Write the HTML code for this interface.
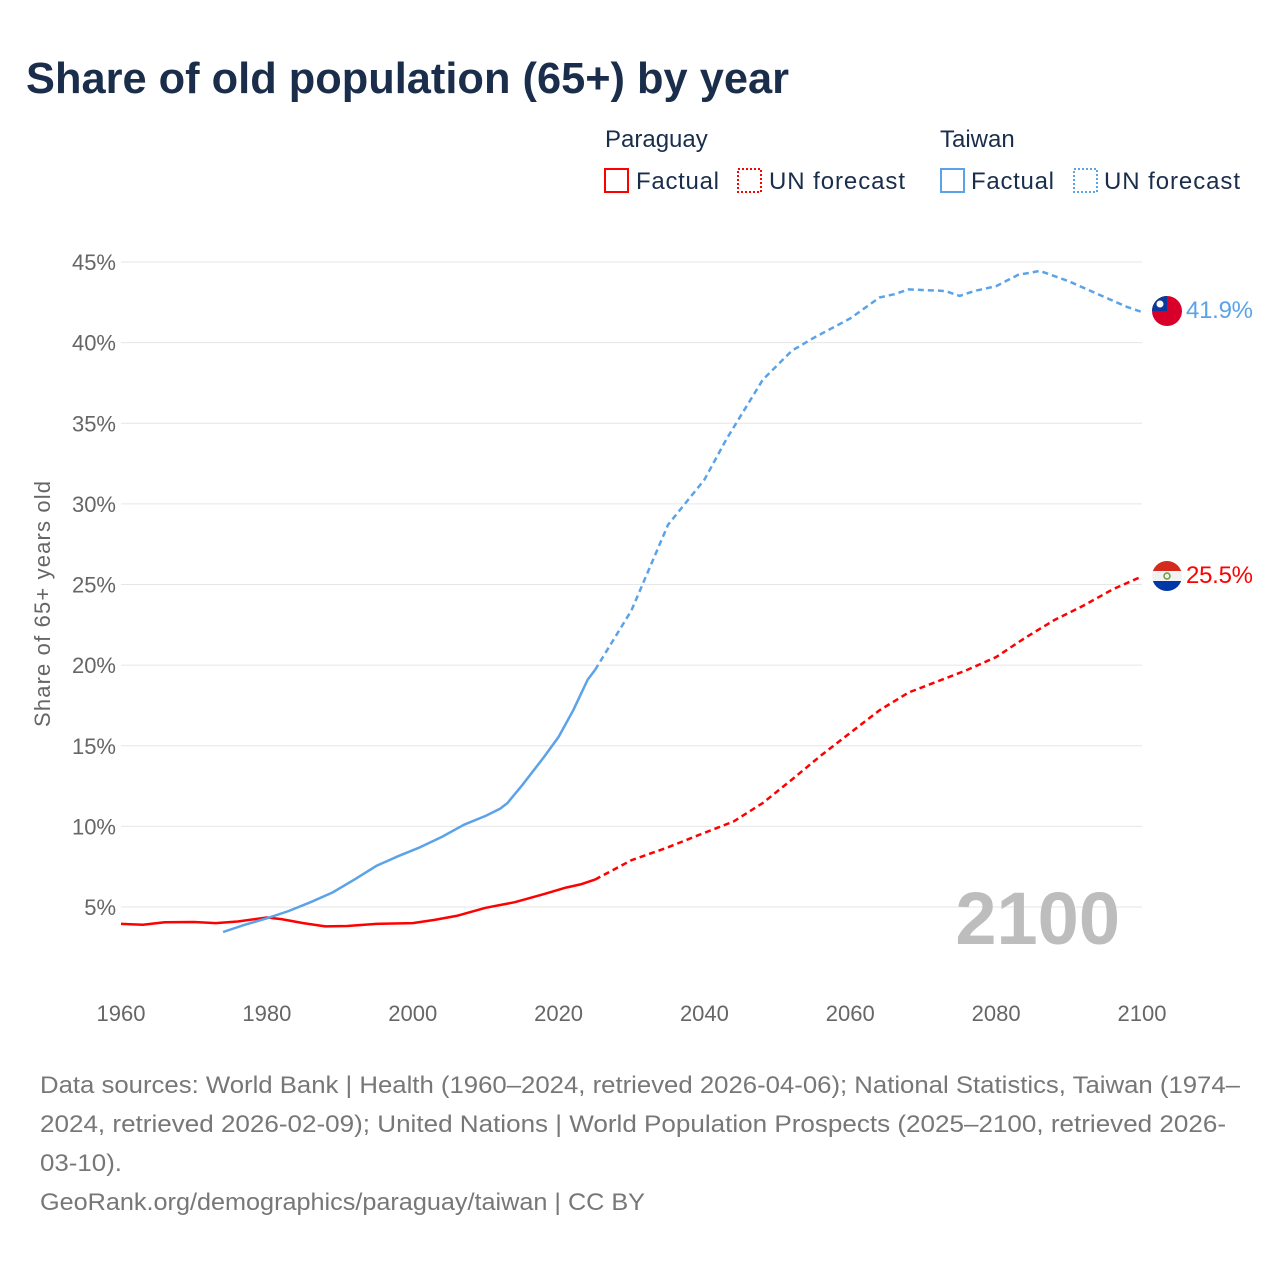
<!DOCTYPE html>
<html><head><meta charset="utf-8">
<style>
body{margin:0;background:#fff;font-family:"Liberation Sans",sans-serif;}
#wrap{position:relative;width:1280px;height:1280px;overflow:hidden;}
</style></head>
<body>
<div id="wrap">
<svg id="chart" width="1280" height="1280">
<text x="26" y="93" font-size="44" font-weight="bold" fill="#1a2e4b" textLength="763" lengthAdjust="spacingAndGlyphs">Share of old population (65+) by year</text>
<g font-size="24" fill="#1a2e4b">
<text x="605" y="147">Paraguay</text>
<text x="940" y="147">Taiwan</text>
<g><rect x="605" y="169" width="23" height="23" fill="none" stroke="#ff0000" stroke-width="2"/><text x="636" y="189" textLength="83">Factual</text></g>
<g><rect x="738" y="169" width="23" height="23" fill="none" stroke="#ff0000" stroke-width="2" stroke-dasharray="2,2"/><text x="769" y="189" textLength="136">UN forecast</text></g>
<g><rect x="941" y="169" width="23" height="23" fill="none" stroke="#5ba3e8" stroke-width="2"/><text x="971" y="189" textLength="83">Factual</text></g>
<g><rect x="1074" y="169" width="23" height="23" fill="none" stroke="#5ba3e8" stroke-width="2" stroke-dasharray="2,2"/><text x="1104" y="189" textLength="136">UN forecast</text></g>
</g>
<g id="grid"></g>
<g id="yticks" font-size="22" fill="#666" text-anchor="end"></g>
<g id="xticks" font-size="22" fill="#666" text-anchor="middle"></g>
<text transform="translate(50,604) rotate(-90)" font-size="22" fill="#666" text-anchor="middle" textLength="246">Share of 65+ years old</text>
<text x="1120" y="944" font-size="74" font-weight="bold" fill="#bdbdbd" text-anchor="end">2100</text>
<g id="series"></g>
<g>
<clipPath id="ctw"><circle cx="1167" cy="311" r="15"/></clipPath>
<g clip-path="url(#ctw)"><rect x="1150" y="294" width="34" height="34" fill="#d8002a"/><rect x="1150" y="294" width="17" height="17" fill="#0a3b9c"/><circle cx="1160" cy="304" r="3.5" fill="#fff"/></g>
</g>
<g>
<clipPath id="cpy"><circle cx="1167" cy="576" r="15"/></clipPath>
<g clip-path="url(#cpy)"><rect x="1150" y="559" width="34" height="12" fill="#d52b1e"/><rect x="1150" y="571" width="34" height="10" fill="#f2f2f2"/><rect x="1150" y="581" width="34" height="12" fill="#0038a8"/><circle cx="1167" cy="576" r="3" fill="none" stroke="#6a9a3a" stroke-width="1.5"/></g>
</g>
<text x="1186" y="318" font-size="24" fill="#5ba3e8" textLength="67">41.9%</text>
<text x="1186" y="583" font-size="24" fill="#ff0000" textLength="67">25.5%</text>
<g font-size="24" fill="#777">
<text x="40" y="1093" textLength="1200" lengthAdjust="spacingAndGlyphs">Data sources: World Bank | Health (1960–2024, retrieved 2026-04-06); National Statistics, Taiwan (1974–</text>
<text x="40" y="1132" textLength="1186" lengthAdjust="spacingAndGlyphs">2024, retrieved 2026-02-09); United Nations | World Population Prospects (2025–2100, retrieved 2026-</text>
<text x="40" y="1171" textLength="82" lengthAdjust="spacingAndGlyphs">03-10).</text>
<text x="40" y="1210" textLength="605" lengthAdjust="spacingAndGlyphs">GeoRank.org/demographics/paraguay/taiwan | CC BY</text>
</g>
</svg>
</div>
<script>
const yTicks=[5,10,15,20,25,30,35,40,45];
const xTicks=[1960,1980,2000,2020,2040,2060,2080,2100];
const pyYears=[1960,1963,1966,1970,1973,1976,1980,1982,1985,1988,1991,1995,2000,2003,2006,2010,2014,2018,2021,2023,2025];
const pyValues=[3.95,3.9,4.05,4.07,4.0,4.1,4.35,4.25,4.0,3.8,3.82,3.95,4.0,4.2,4.45,4.95,5.3,5.8,6.2,6.4,6.7];
const pyFcYears=[2025,2030,2035,2040,2044,2048,2052,2056,2060,2064,2068,2072,2076,2080,2084,2088,2092,2096,2100];
const pyFcValues=[6.7,7.9,8.7,9.6,10.3,11.45,12.9,14.4,15.8,17.2,18.3,19.0,19.7,20.5,21.7,22.8,23.7,24.7,25.5];
const twYears=[1974,1977,1980,1983,1986,1989,1992,1995,1998,2001,2004,2007,2010,2012,2013,2015,2018,2020,2022,2024,2025];
const twValues=[3.45,3.9,4.3,4.75,5.3,5.9,6.7,7.55,8.15,8.7,9.35,10.1,10.65,11.1,11.45,12.55,14.3,15.55,17.2,19.1,19.7];
const twFcYears=[2025,2030,2035,2040,2043,2048,2052,2055,2060,2064,2066,2068,2073,2075,2077,2080,2083,2086,2090,2095,2098,2100];
const twFcValues=[19.7,23.4,28.7,31.5,34.0,37.7,39.5,40.3,41.5,42.8,43.0,43.3,43.2,42.9,43.2,43.5,44.2,44.45,43.8,42.8,42.2,41.9];
const X=y=>121+(y-1960)*(1142-121)/140;
const Y=v=>907-(v-5)*(907-262)/40;
const NS='http://www.w3.org/2000/svg';
function mk(t,p,a){const e=document.createElementNS(NS,t);for(const k in a)e.setAttribute(k,a[k]);p.appendChild(e);return e;}
const grid=document.getElementById('grid'),yt=document.getElementById('yticks'),xt=document.getElementById('xticks'),ser=document.getElementById('series');
yTicks.forEach(v=>{
 const l=mk('line',grid,{x1:121,x2:1142,y1:Y(v),y2:Y(v),stroke:'#e6e6e6','stroke-width':1});
 
 
 const t=mk('text',yt,{x:116,y:Y(v)+8});t.textContent=v+'%';
 
 
});
xTicks.forEach(y=>{
 const t=mk('text',xt,{x:X(y),y:1021});t.textContent=y;
 
 
});
function line(xs,vs,color,dash,name){
 const d=xs.map((x,i)=>(i?'L':'M')+X(x).toFixed(1)+','+Y(vs[i]).toFixed(1)).join('');
 const p=mk('path',ser,{d:d,fill:'none',stroke:color,'stroke-width':2.5,'stroke-linejoin':'round'});
 if(dash)p.setAttribute('stroke-dasharray','6,4');
 
 
}
line(pyYears,pyValues,'#ff0000',false,'paraguay-factual-line');
line(pyFcYears,pyFcValues,'#ff0000',true,'paraguay-forecast-line');
line(twYears,twValues,'#5ba3e8',false,'taiwan-factual-line');
line(twFcYears,twFcValues,'#5ba3e8',true,'taiwan-forecast-line');
</script>
</body></html>
